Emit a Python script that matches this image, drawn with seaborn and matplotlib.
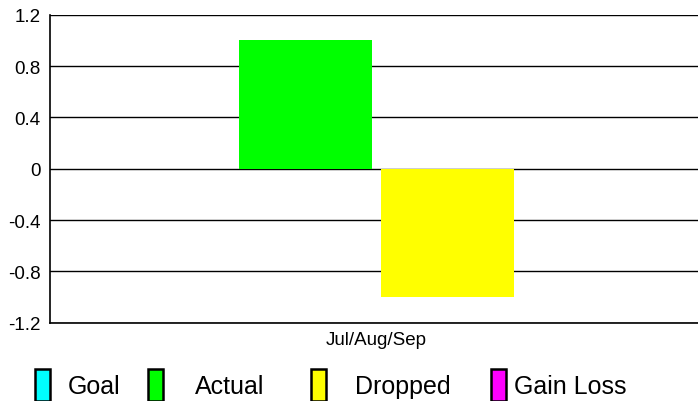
#Importing the necessary libraries
import matplotlib
matplotlib.use('Agg')
import matplotlib.pyplot as plt
from matplotlib.patches import Patch
import pandas as pd
import seaborn as sns

#Chart data
periods = ['Jul/Aug/Sep']
series = ['Goal', 'Actual', 'Dropped', 'Gain Loss']
values = [0, 1, -1, 0]
colors = ['#00FFFF', '#00FF00', '#FFFF00', '#FF00FF']
yticks = [-1.2, -0.8, -0.4, 0, 0.4, 0.8, 1.2]
ytick_labels = ['-1.2', '-0.8', '-0.4', '0', '0.4', '0.8', '1.2']

df = pd.DataFrame({'period': periods * len(series), 'series': series, 'value': values})

sns.set_style('white')
plt.rcParams['font.family'] = ['Liberation Sans', 'DejaVu Sans']
plt.rcParams['axes.unicode_minus'] = False
plt.rcParams['text.color'] = 'black'
plt.rcParams['xtick.color'] = 'black'
plt.rcParams['ytick.color'] = 'black'

fig = plt.figure(figsize=(6.98, 4.02), dpi=100)
ax = fig.add_axes([50 / 698, 1 - 323.7 / 402, 1 - 50 / 698, (323.7 - 15.7) / 402])

#BAR PLOT
sns.barplot(data=df, x='period', y='value', hue='series', hue_order=series,
            palette=colors, saturation=1, width=0.877, gap=0.063, linewidth=0,
            legend=False, ax=ax)

ax.set_ylim(-1.2, 1.2)
ax.set_xlim(-0.504, 0.496)
ax.set_yticks(yticks)
ax.set_yticklabels(ytick_labels, fontsize=13.5)
ax.tick_params(axis='x', labelsize=13.5, length=0, pad=6)
ax.tick_params(axis='y', length=0, pad=7)
ax.set_xlabel('')
ax.set_ylabel('')

#Gridlines behind the bars
ax.set_axisbelow(True)
ax.yaxis.grid(True, color='black', linewidth=1.0)
for side in ['top', 'right']:
    ax.spines[side].set_visible(False)
for side in ['left', 'bottom']:
    ax.spines[side].set_color('black')
    ax.spines[side].set_linewidth(1.2)

#LEGEND (one entry per series, spaced like the original)
box_x = [35, 148, 311, 491]
text_pads = [0.72, 1.28, 1.16, 0.32]
for name, col, bx, pad in zip(series, colors, box_x, text_pads):
    fig.legend(handles=[Patch(facecolor=col, edgecolor='black', linewidth=1.8)],
               labels=[name], loc='center left',
               bbox_to_anchor=(bx / 698, 1 - 386 / 402),
               frameon=False, fontsize=18, handlelength=0.6, handleheight=1.6,
               handletextpad=pad, borderpad=0, borderaxespad=0)

fig.savefig('out.png', dpi=100)
